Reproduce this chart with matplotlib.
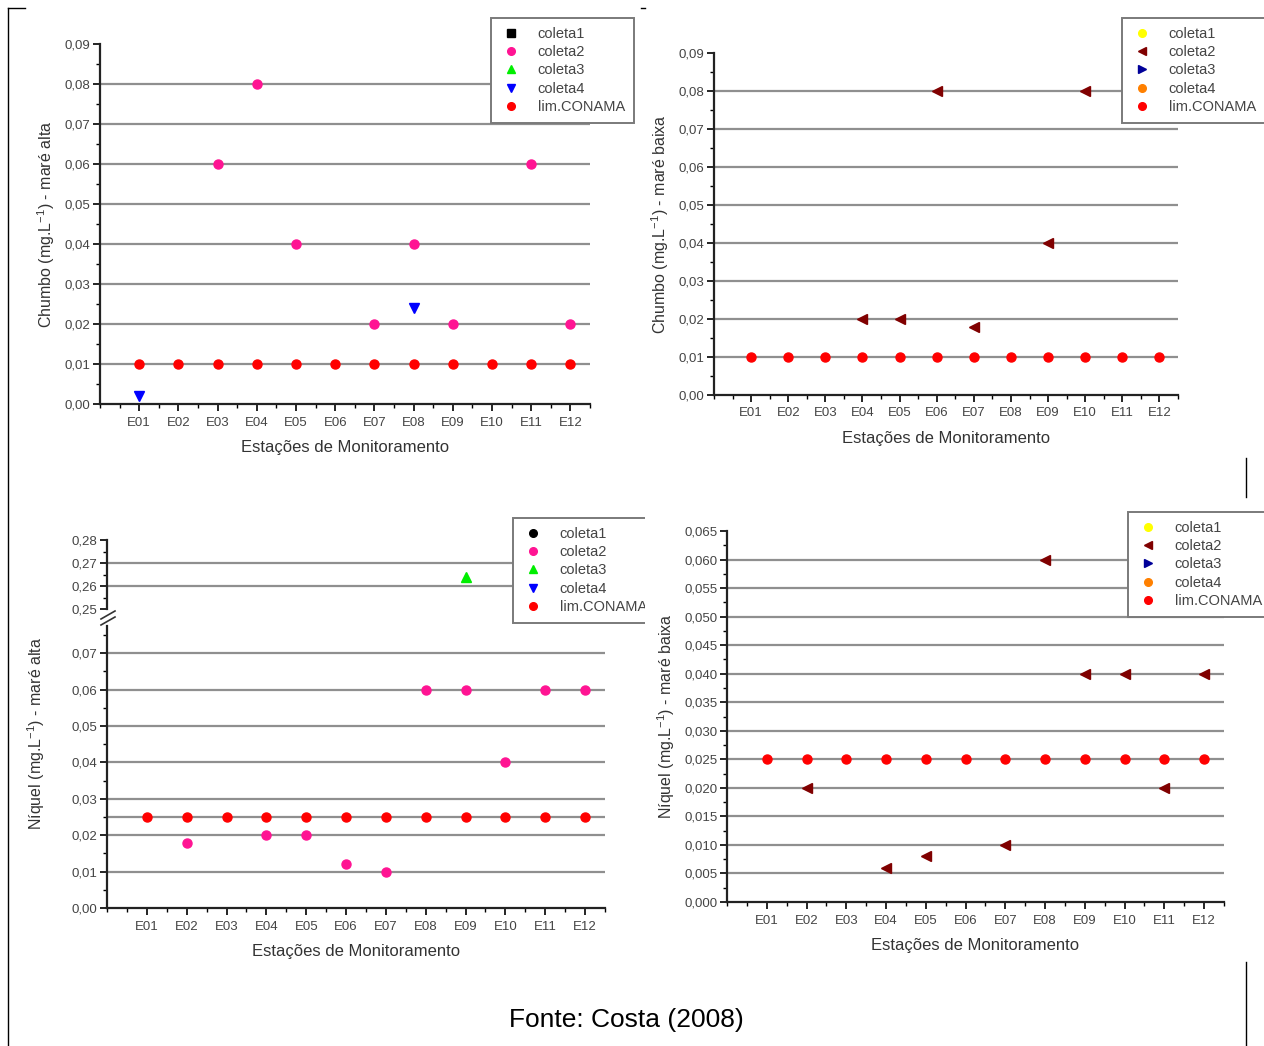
import matplotlib
matplotlib.use("Agg")
import matplotlib.pyplot as plt
from matplotlib.ticker import MultipleLocator, FixedLocator, FuncFormatter
from matplotlib.lines import Line2D
from matplotlib.transforms import Bbox, TransformedBbox

plt.rcParams['font.family'] = ['Liberation Sans', 'DejaVu Sans']
plt.rcParams['mathtext.fontset'] = 'custom'
plt.rcParams['mathtext.rm'] = 'Liberation Sans'
plt.rcParams['mathtext.default'] = 'regular'

W, H = 1264, 1046

estacoes = ["E01", "E02", "E03", "E04", "E05", "E06",
            "E07", "E08", "E09", "E10", "E11", "E12"]

# Chumbo - maré alta
pb_alta_c2_est = ["E03", "E04", "E05", "E07", "E08", "E09", "E11", "E12"]
pb_alta_c2 = [0.06, 0.08, 0.04, 0.02, 0.04, 0.02, 0.06, 0.02]
pb_alta_c4_est = ["E01", "E08"]
pb_alta_c4 = [0.002, 0.024]

# Chumbo - maré baixa
pb_baixa_c2_est = ["E04", "E05", "E06", "E07", "E09", "E10"]
pb_baixa_c2 = [0.02, 0.02, 0.08, 0.018, 0.04, 0.08]

# Niquel - maré alta
ni_alta_c2_est = ["E02", "E04", "E05", "E06", "E07", "E08", "E09", "E10", "E11", "E12"]
ni_alta_c2 = [0.018, 0.02, 0.02, 0.012, 0.01, 0.06, 0.06, 0.04, 0.06, 0.06]
ni_alta_c3_est = ["E09"]
ni_alta_c3 = [0.264]

# Niquel - maré baixa
ni_baixa_c2_est = ["E02", "E04", "E05", "E07", "E08", "E09", "E10", "E11", "E12"]
ni_baixa_c2 = [0.02, 0.006, 0.008, 0.01, 0.06, 0.04, 0.04, 0.02, 0.04]

# limite CONAMA
pb_lim = [0.01] * len(estacoes)
ni_lim = [0.025] * len(estacoes)

legend_labels = ["coleta1", "coleta2", "coleta3", "coleta4", "lim.CONAMA"]
style_alta = [("s", "black"), ("o", "#ff1493"), ("^", "#00ee00"), ("v", "#0000ff"), ("o", "#ff0000")]
style_alta_ni = [("o", "black"), ("o", "#ff1493"), ("^", "#00ee00"), ("v", "#0000ff"), ("o", "#ff0000")]
style_baixa = [("o", "#ffff00"), ("<", "#800000"), (">", "#000099"), ("o", "#ff8000"), ("o", "#ff0000")]

GRID = "#8f8f8f"
TXT = "#444444"

fig = plt.figure(figsize=(W / 100, H / 100), dpi=100)


def px_axes(left, top, right, bottom):
    return fig.add_axes([left / W, 1 - bottom / H, (right - left) / W, (bottom - top) / H])


def pos(est):
    return [estacoes.index(e) + 1 for e in est]


def fmt(dec):
    return FuncFormatter(lambda v, p: f"{v:.{dec}f}".replace(".", ","))


def style(ax, ylim, major, dec, show_x=True):
    ax.set_xlim(0, 12.5)
    ax.set_ylim(*ylim)
    for s in ["top", "right"]:
        ax.spines[s].set_visible(False)
    for s in ["left", "bottom"]:
        ax.spines[s].set_linewidth(1.6)
        ax.spines[s].set_color("#222222")
    ax.yaxis.set_major_locator(MultipleLocator(major))
    ax.yaxis.set_minor_locator(MultipleLocator(major / 2))
    ax.yaxis.set_major_formatter(fmt(dec))
    ax.tick_params(axis="y", which="major", length=5, width=1.2, labelsize=9.5,
                   labelcolor=TXT, pad=2)
    ax.tick_params(axis="y", which="minor", length=3, width=1.0)
    if show_x:
        ax.xaxis.set_major_locator(FixedLocator(range(1, 13)))
        ax.xaxis.set_minor_locator(MultipleLocator(0.5))
        ax.set_xticklabels(estacoes)
        ax.tick_params(axis="x", which="major", length=5, width=1.2, labelsize=9.5,
                       labelcolor=TXT, pad=4)
        ax.tick_params(axis="x", which="minor", length=3, width=1.0)
    else:
        ax.spines["bottom"].set_visible(False)
        ax.set_xticks([])
        ax.set_xticks([], minor=True)
    ticks = [t for t in ax.get_yticks() if ylim[0] + 1e-9 < t < ylim[1] - 1e-9]
    ax.hlines(ticks, 0, 12.5, colors=GRID, linewidth=1.6, zorder=1)


def add_legend(ax, styles, x0, y0, clip_right=None):
    handles = [Line2D([], [], marker=m, color=c, linestyle="none", markersize=5.5)
               for m, c in styles]
    leg = ax.legend(handles, legend_labels, loc="upper left",
                    bbox_to_anchor=(x0 / W, 1 - y0 / H), bbox_transform=fig.transFigure,
                    frameon=True, fancybox=False, framealpha=1, edgecolor="#7a7a7a",
                    fontsize=10.5, labelspacing=0.3, handletextpad=1.0,
                    borderpad=0.6, handlelength=1.6, borderaxespad=0)
    leg.get_frame().set_linewidth(1.4)
    for t in leg.get_texts():
        t.set_color(TXT)
    if clip_right is not None:
        box = TransformedBbox(Bbox([[0, 0], [clip_right / W, 1]]), fig.transFigure)
        for a in leg.findobj():
            a.set_clip_box(box)
            a.set_clip_on(True)
    return leg


def scatter(ax, est, vals, st):
    ax.plot(pos(est), vals, marker=st[0], color=st[1], linestyle="none",
            markersize=6.5, zorder=3, clip_on=False)


xlabel = "Estações de Monitoramento"
XL = dict(fontsize=12, color="#333333", labelpad=8)
YL = dict(fontsize=11.5, color="#333333", labelpad=5)

# ---- Chumbo maré alta
ax1 = px_axes(100, 44, 590, 404)
style(ax1, (0, 0.09), 0.01, 2)
scatter(ax1, pb_alta_c2_est, pb_alta_c2, style_alta[1])
scatter(ax1, pb_alta_c4_est, pb_alta_c4, style_alta[3])
scatter(ax1, estacoes, pb_lim, style_alta[4])
ax1.set_xlabel(xlabel, **XL)
ax1.set_ylabel("Chumbo (mg.L$^{-1}$) - maré alta", **YL)
add_legend(ax1, style_alta, 491, 18)

# ---- Chumbo maré baixa
ax2 = px_axes(714, 53, 1178, 395)
style(ax2, (0, 0.09), 0.01, 2)
scatter(ax2, pb_baixa_c2_est, pb_baixa_c2, style_baixa[1])
scatter(ax2, estacoes, pb_lim, style_baixa[4])
ax2.set_xlabel(xlabel, **XL)
ax2.set_ylabel("Chumbo (mg.L$^{-1}$) - maré baixa", **YL)
add_legend(ax2, style_baixa, 1122, 18)

# ---- Niquel maré alta (eixo quebrado)
ax3u = px_axes(107, 540, 605, 609)
style(ax3u, (0.25, 0.28), 0.01, 2, show_x=False)
scatter(ax3u, ni_alta_c3_est, ni_alta_c3, style_alta_ni[2])
ax3 = px_axes(107, 626, 605, 908)
style(ax3, (0, 0.0775), 0.01, 2)
ax3.axhline(ni_lim[0], color=GRID, linewidth=1.6, zorder=1)
scatter(ax3, ni_alta_c2_est, ni_alta_c2, style_alta_ni[1])
scatter(ax3, estacoes, ni_lim, style_alta_ni[4])
ax3.set_xlabel(xlabel, **XL)
ax3.set_ylabel("Níquel (mg.L$^{-1}$) - maré alta", **YL)
ax3.yaxis.set_label_coords(-0.12, 0.62)
for dy in (0, 6):
    fig.add_artist(Line2D([101 / W, 115 / W], [1 - (619 + dy) / H, 1 - (611 + dy) / H],
                          color="#333333", linewidth=1.2))
add_legend(ax3, style_alta_ni, 513, 518, clip_right=645)

# ---- Niquel maré baixa
ax4 = px_axes(727, 531, 1224, 902)
style(ax4, (0, 0.065), 0.005, 3)
scatter(ax4, ni_baixa_c2_est, ni_baixa_c2, style_baixa[1])
scatter(ax4, estacoes, ni_lim, style_baixa[4])
ax4.set_xlabel(xlabel, **XL)
ax4.set_ylabel("Níquel (mg.L$^{-1}$) - maré baixa", **YL)
add_legend(ax4, style_baixa, 1128, 512)

# ---- moldura do documento e fonte
for xs, ys in [([8, 8], [8, 1046]), ([8, 25], [8, 8]), ([641, 645], [8, 8]),
               ([1246, 1246], [458, 497]), ([1246, 1246], [962, 1046])]:
    fig.add_artist(Line2D([x / W for x in xs], [1 - y / H for y in ys],
                          color="black", linewidth=1.0))

fig.text(626 / W, 1 - 1020 / H, "Fonte: Costa (2008)", ha="center", va="center",
         fontsize=19, color="black")

fig.savefig("out.png", dpi=100)
